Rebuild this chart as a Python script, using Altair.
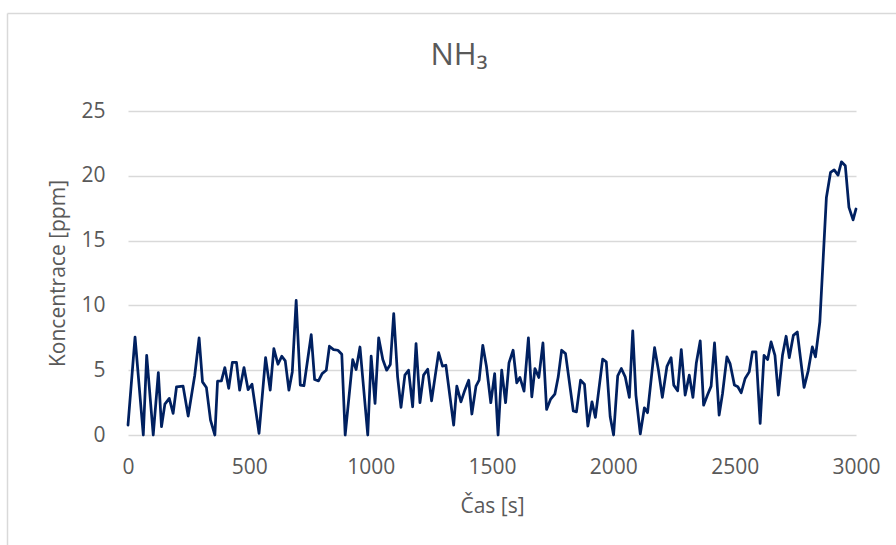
import altair as alt
import pandas as pd

# time [s]
times = [0, 29, 63, 77, 104, 125, 138, 152, 170, 186, 200, 227, 248, 275, 293, 307, 323, 340, 358,
         369, 385, 399, 415, 430, 447, 460, 478, 495, 511, 540, 567, 586, 601, 618, 634, 648, 663,
         677, 693, 710, 725, 755, 769, 785, 800, 817, 830, 847, 865, 881, 895, 926, 940, 956, 988,
         1002, 1018, 1033, 1050, 1066, 1081, 1095, 1111, 1125, 1141, 1156, 1173, 1187, 1203, 1218,
         1235, 1251, 1280, 1296, 1310, 1342, 1355, 1372, 1388, 1404, 1417, 1434, 1447, 1462, 1477,
         1495, 1511, 1525, 1540, 1556, 1570, 1587, 1602, 1615, 1632, 1650, 1664, 1677, 1693, 1710,
         1725, 1741, 1759, 1773, 1787, 1803, 1835, 1848, 1865, 1881, 1895, 1912, 1926, 1956, 1971,
         1987, 2001, 2018, 2033, 2049, 2066, 2080, 2093, 2111, 2128, 2141, 2170, 2186, 2202, 2221,
         2238, 2249, 2265, 2280, 2296, 2313, 2328, 2342, 2358, 2372, 2388, 2403, 2417, 2436, 2450,
         2468, 2481, 2499, 2513, 2527, 2543, 2560, 2573, 2588, 2605, 2621, 2636, 2650, 2666, 2680,
         2697, 2712, 2725, 2742, 2758, 2786, 2803, 2820, 2833, 2851, 2865, 2878, 2895, 2910, 2926,
         2940, 2956, 2971, 2988, 3000]

# NH3 concentration [ppm]
conc = [0.77, 7.56, 0.0, 6.15, 0.0, 4.82, 0.64, 2.38, 2.82, 1.67, 3.72, 3.77, 1.46, 4.6, 7.5, 4.1, 3.67, 1.15, 0.0,
        4.15, 4.18, 5.2, 3.6, 5.6, 5.6, 3.46, 5.2, 3.5, 3.92, 0.13, 5.97, 3.46, 6.67, 5.46, 6.08, 5.72, 3.46,
        4.87, 10.38, 3.85, 3.8, 7.74, 4.28, 4.18, 4.74, 5.0, 6.85, 6.59, 6.54, 6.23, 0.0, 5.82, 5.05, 6.79, 0.0,
        6.08, 2.44, 7.5, 5.82, 5.0, 5.44, 9.36, 4.49, 2.13, 4.62, 5.0, 2.18, 7.05, 2.49, 4.62,
        5.08, 2.64, 6.36, 5.31, 5.38, 0.77, 3.77, 2.56, 3.46, 4.23, 1.62, 3.77, 4.23, 6.92, 5.31,
        2.49, 4.74, 0.0, 5.0, 2.49, 5.56, 6.54, 4.03, 4.44, 3.38, 7.5, 2.95, 5.13, 4.44, 7.1,
        1.97, 2.74, 3.15, 4.49, 6.54, 6.28, 1.85, 1.79, 4.23, 3.92, 0.69, 2.56, 1.36, 5.85, 5.64,
        1.41, 0.0, 4.56, 5.13, 4.49, 2.9, 8.03, 3.08, 0.08, 2.1, 1.72, 6.74, 5.0, 2.9, 5.3,
        5.97, 3.85, 3.41, 6.59, 3.08, 4.62, 2.9, 5.56, 7.26, 2.3, 3.08, 3.77, 7.1, 1.54, 3.2,
        6.03, 5.51, 3.85, 3.72, 3.26, 4.36, 4.87, 6.41, 6.41, 0.9, 6.15, 5.82, 7.18, 6.15, 3.08,
        6.15, 7.62, 5.97, 7.69, 7.95, 3.67, 4.95, 6.8, 6.03, 8.72, 13.7, 18.33, 20.26, 20.46, 20.05,
        21.08, 20.77, 17.56, 16.6, 17.44]

x_ticks = [0, 500, 1000, 1500, 2000, 2500, 3000]
y_ticks = [0, 5, 10, 15, 20, 25]

df = pd.DataFrame({"t": times, "c": conc})
one = pd.DataFrame({"k": [0]})

TEXT = "#595959"
GRID = "#d9d9d9"

line = alt.Chart(df).mark_line(
    color="#002060", strokeWidth=2.75, strokeJoin="round", strokeCap="round"
).encode(
    x=alt.X("t:Q", scale=alt.Scale(domain=[0, 3000], nice=False),
            axis=alt.Axis(values=x_ticks, title="Čas [s]", grid=False, domain=False, labelFlush=False,
                          ticks=False, tickSize=0, labelPadding=21, titlePadding=18, format="d")),
    y=alt.Y("c:Q", scale=alt.Scale(domain=[0, 25], nice=False),
            axis=alt.Axis(values=y_ticks, title="Koncentrace [ppm]", grid=True, domain=False,
                          ticks=False, tickSize=0, labelPadding=23, titlePadding=12, format="d")),
)

border_left = alt.Chart(one).mark_rule(color=GRID, strokeWidth=1.5).encode(
    x=alt.value(-120.5), y=alt.value(-97.5), y2=alt.value(440))
border_top = alt.Chart(one).mark_rule(color=GRID, strokeWidth=1.5).encode(
    x=alt.value(-120.5), x2=alt.value(780), y=alt.value(-97.5))

chart = alt.layer(border_left, border_top, line).properties(
    width=728, height=324,
    title=alt.TitleParams(text="NH₃", fontSize=31, font="Open Sans", fontWeight="normal",
                          color=TEXT, anchor="middle", baseline="alphabetic", offset=0, dy=83, dx=-33),
    autosize=alt.AutoSizeParams(type="none"),
    padding={"left": 128, "top": 111, "right": 40, "bottom": 110},
).configure(
    font="Open Sans",
).configure_axis(
    labelColor=TEXT, titleColor=TEXT, labelFontSize=21, titleFontSize=21,
    titleFontWeight="normal", gridColor=GRID, gridWidth=1.5, labelFont="Open Sans", titleFont="Open Sans",
).configure_view(stroke=None)

chart.save("out.html", embed_options={"renderer": "svg", "actions": False})
